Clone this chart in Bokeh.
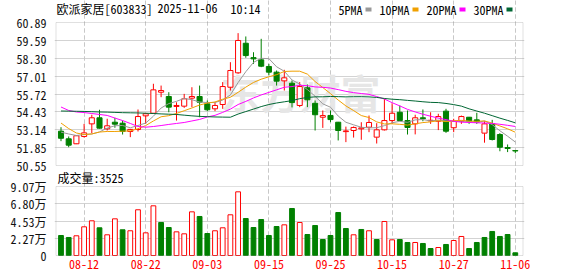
import numpy as np
from bokeh.plotting import figure
from bokeh.models import Range1d, FixedTicker, Label, BoxAnnotation, Grid
from bokeh.embed import file_html
from bokeh.resources import INLINE

# ---------------- data ----------------
stock_name = "欧派家居"
stock_code = "603833"
date_str = "2025-11-06"
time_str = "10:14"
dates = ["08-07", "08-08", "08-11", "08-12", "08-13", "08-14", "08-15", "08-18", "08-19", "08-20",
         "08-21", "08-22", "08-25", "08-26", "08-27", "08-28", "08-29", "09-01", "09-02", "09-03",
         "09-04", "09-05", "09-08", "09-09", "09-10", "09-11", "09-12", "09-15", "09-16", "09-17",
         "09-18", "09-19", "09-22", "09-23", "09-24", "09-25", "09-26", "09-29", "09-30", "10-09",
         "10-10", "10-13", "10-14", "10-15", "10-16", "10-17", "10-20", "10-21", "10-22", "10-23",
         "10-24", "10-27", "10-28", "10-29", "10-30", "10-31", "11-03", "11-04", "11-05", "11-06"]
opens = [53.03, 52.48, 52.12, 52.65, 53.56, 54.00, 53.20, 53.68, 53.61, 53.01,
         53.15, 54.14, 54.33, 55.85, 55.54, 54.82, 54.84, 55.42, 55.54, 55.01,
         54.65, 54.96, 56.21, 57.25, 59.39, 58.35, 58.19, 57.71, 57.30, 56.67,
         56.50, 54.89, 56.17, 55.05, 54.04, 54.17, 53.68, 53.00, 53.08, 53.20,
         53.32, 52.60, 53.13, 53.80, 54.40, 53.80, 53.56, 54.00, 53.78, 53.75,
         54.48, 53.28, 53.75, 54.04, 53.85, 52.89, 53.56, 52.79, 51.85, 51.63]
highs = [53.32, 52.65, 52.72, 53.56, 54.22, 54.58, 53.93, 54.00, 53.80, 53.18,
         54.60, 54.33, 56.46, 56.33, 55.85, 55.12, 55.73, 56.21, 56.33, 55.25,
         55.13, 56.58, 58.02, 60.12, 59.88, 58.74, 59.71, 57.90, 57.42, 57.47,
         56.70, 56.58, 56.41, 55.25, 54.53, 54.53, 53.70, 53.36, 53.37, 53.68,
         54.16, 53.61, 55.37, 55.05, 54.89, 54.53, 54.22, 54.60, 54.40, 54.29,
         54.65, 53.93, 54.16, 54.06, 54.36, 53.75, 53.85, 52.89, 52.07, 51.64]
lows = [52.31, 51.87, 52.10, 52.57, 52.89, 53.22, 53.08, 53.28, 52.79, 52.60,
        53.01, 53.56, 54.29, 55.49, 54.40, 53.80, 54.72, 54.77, 54.04, 54.48,
        54.48, 54.65, 55.97, 57.18, 58.34, 57.90, 57.66, 57.06, 56.33, 55.97,
        54.75, 54.77, 54.77, 53.08, 53.27, 53.68, 52.36, 52.24, 52.57, 52.41,
        52.96, 52.14, 53.08, 53.56, 53.75, 52.79, 52.80, 53.75, 53.56, 53.11,
        52.91, 52.96, 53.56, 53.56, 53.56, 52.20, 52.36, 51.58, 51.52, 51.44]
closes = [52.52, 52.02, 52.70, 52.91, 54.00, 53.25, 53.42, 53.54, 53.01, 53.16,
          54.09, 54.29, 56.02, 55.97, 54.77, 54.89, 55.37, 55.54, 55.13, 54.58,
          54.89, 56.26, 57.42, 59.59, 58.50, 58.26, 57.73, 57.30, 56.65, 56.89,
          55.10, 56.26, 55.30, 54.22, 54.16, 53.87, 53.08, 53.05, 53.30, 53.27,
          53.66, 53.13, 53.80, 54.33, 53.80, 53.30, 54.00, 53.94, 53.82, 54.09,
          53.03, 53.75, 54.09, 53.75, 53.70, 53.56, 52.43, 51.87, 51.78, 51.60]
# volume in units of 万 (10k lots)
vols = [2.63, 2.37, 2.59, 3.77, 4.56, 3.64, 2.72, 4.82, 3.38, 3.25,
        6.01, 2.98, 6.53, 4.34, 3.68, 3.11, 2.85, 5.74, 5.13, 2.89,
        3.25, 3.64, 5.35, 8.37, 4.86, 3.68, 4.73, 2.63, 3.81, 4.03,
        6.18, 4.34, 2.76, 3.94, 2.10, 2.63, 5.65, 3.55, 2.72, 3.42,
        3.25, 2.10, 4.47, 2.06, 2.10, 1.71, 1.71, 1.58, 0.92, 1.05,
        1.45, 1.97, 2.50, 0.92, 1.71, 2.37, 3.16, 2.50, 2.76, 0.3525]
ma5_head = [52.96, 52.83, 52.72, 52.79]
ma10_head = [53.62, 53.22, 52.90, 52.79, 52.83, 52.97, 53.01, 53.01, 53.03]
ma20_head = [54.78, 54.53, 54.42, 54.38, 54.31, 54.24, 54.17, 53.98, 53.80, 53.59,
             53.37, 53.32, 53.37, 53.44, 53.52, 53.59, 53.66, 53.77, 53.88]
ma30_head = [54.49, 54.48, 54.47, 54.46, 54.44, 54.42, 54.41, 54.39, 54.37, 54.36,
             54.35, 54.33, 54.31, 54.28, 54.26, 54.24, 54.19, 54.14, 54.10, 54.08,
             54.06, 54.05, 54.04, 54.27, 54.45, 54.63, 54.81, 54.96, 55.07]
price_tick_labels = ["50.55", "51.85", "53.14", "54.43", "55.72", "57.01", "58.30", "59.59", "60.89"]
price_min, price_max = 50.55, 60.89
vol_tick_labels = ["0", "2.27万", "4.53万", "6.80万", "9.07万"]
vol_max = 9.07
x_tick_labels = ["08-12", "08-22", "09-03", "09-15", "09-25", "10-15", "10-27", "11-06"]
ma_names = ["5PMA", "10PMA", "20PMA", "30PMA"]

# ---------------- styles / layout ----------------
RED = "#ff0000"
GREEN = "#008000"
MA_COLORS = ["#999999", "#f0a000", "#ff00ff", "#006633"]
GRID = "#d3d3d3"
VGRID = "#c8c8c8"
FRAME = "#999999"
CJK = "Noto Sans Mono CJK SC, Noto Sans CJK SC"

W, H = 578, 276
FRAME_L, FRAME_R = 54, 524          # bokeh frame, px
FRAME_B = 256                       # bokeh frame bottom, px (top is 0)
BOX_L, BOX_R = 55.5, 522.5          # drawn chart border, px
SLOT = 7.70                         # px per trading day
FIRST_C = 60.5                      # px of the first candle centre
P_TOP, P_BOT = 22, 165              # price box, px
V_TOP, V_BOT = 186, 255             # volume box, px

n = len(dates)
idx = list(range(n))


def moving_avg(k, head):
    out = []
    for i in range(n):
        if i >= k - 1:
            out.append(sum(closes[i - k + 1:i + 1]) / k)
        else:
            out.append(head[i])
    return out


mas = [moving_avg(5, ma5_head), moving_avg(10, ma10_head),
       moving_avg(20, ma20_head), moving_avg(30, ma30_head)]

up = [c > o for o, c in zip(opens, closes)]
vol_up = [(closes[i] >= closes[i - 1]) if i > 0 else up[0] for i in range(n)]
x_ticks = [dates.index(t) for t in x_tick_labels]

# pixel <-> data helpers
x_start = -(FIRST_C - FRAME_L) / SLOT
x_end = x_start + (FRAME_R - FRAME_L) / SLOT


def fx(px):
    return x_start + (px - FRAME_L) / SLOT


ppu = (P_BOT - P_TOP) / (price_max - price_min)
y_top = price_max + P_TOP / ppu
y_bot = y_top - FRAME_B / ppu


def fy(py):
    return y_top - py / ppu


vppu = (V_BOT - V_TOP) / vol_max
v_bot = -(FRAME_B - V_BOT) / vppu
v_top = vol_max + V_TOP / vppu


def v2p(v):
    return fy(V_BOT - v * vppu)


box_l, box_r = fx(BOX_L), fx(BOX_R)

p = figure(width=W, height=H, x_range=Range1d(x_start, x_end), y_range=Range1d(y_bot, y_top),
           output_backend="svg", toolbar_location=None,
           min_border_left=FRAME_L, min_border_right=W - FRAME_R,
           min_border_top=0, min_border_bottom=H - FRAME_B)
p.extra_y_ranges = {"vol": Range1d(v_bot, v_top)}
p.outline_line_color = None

# y axis: price ticks and volume ticks on one axis
price_ticks = list(np.linspace(price_min, price_max, len(price_tick_labels)))
vol_ticks = list(np.linspace(0, vol_max, len(vol_tick_labels)))
vol_ticks_p = [v2p(v) for v in vol_ticks]
overrides = {t: s for t, s in zip(price_ticks, price_tick_labels)}
overrides.update({t: s for t, s in zip(vol_ticks_p, vol_tick_labels)})
p.yaxis.ticker = FixedTicker(ticks=price_ticks + vol_ticks_p)
p.yaxis.major_label_overrides = overrides
p.yaxis.axis_line_color = None
p.yaxis.major_tick_line_color = None
p.yaxis.minor_tick_line_color = None
p.yaxis.major_label_standoff = 2
p.yaxis.major_label_text_font = CJK
p.yaxis.major_label_text_font_size = "12px"
p.yaxis.major_label_text_color = "#111111"
p.ygrid.ticker = FixedTicker(ticks=price_ticks[1:-1] + vol_ticks_p[1:-1])
p.ygrid.grid_line_color = GRID
p.ygrid.bounds = (box_l, box_r)

# x axis
p.xaxis.ticker = FixedTicker(ticks=x_ticks)
p.xaxis.major_label_overrides = {t: s for t, s in zip(x_ticks, x_tick_labels)}
p.xaxis.axis_line_color = None
p.xaxis.major_tick_line_color = None
p.xaxis.minor_tick_line_color = None
p.xaxis.major_tick_out = 0
p.xaxis.major_label_standoff = 3
p.xaxis.major_label_text_font = CJK
p.xaxis.major_label_text_font_size = "12px"
p.xaxis.major_label_text_color = RED
p.xgrid.ticker = FixedTicker(ticks=x_ticks)
p.xgrid.grid_line_color = VGRID
p.xgrid.grid_line_dash = "4 3"
p.xgrid.bounds = (price_min, price_max)
vgrid2 = Grid(dimension=0, ticker=FixedTicker(ticks=x_ticks), grid_line_color=VGRID,
              grid_line_dash="4 3", bounds=(v2p(0), v2p(vol_max)))
p.add_layout(vgrid2)

# watermark
p.add_layout(Label(x=31.1, y=55.9, text="东方财富", text_font=CJK, text_font_size="40px",
                   text_color="#e6e6e6", text_align="center", text_baseline="middle",
                   text_font_style="bold", level="underlay"))

# candles
for flag, col, fill in [(True, RED, "white"), (False, GREEN, GREEN)]:
    sel = [i for i in idx if up[i] == flag]
    p.segment(x0=sel, x1=sel, y0=[lows[i] for i in sel], y1=[highs[i] for i in sel],
              line_color=col, line_width=1)
    p.vbar(x=sel, width=0.66,
           top=[max(opens[i], closes[i]) for i in sel],
           bottom=[min(opens[i], closes[i]) for i in sel],
           fill_color=fill, line_color=col, line_width=1)

for vals, col in zip(mas, MA_COLORS):
    p.line(idx, vals, line_color=col, line_width=1)

# volume bars
for flag, col, fill in [(True, RED, "white"), (False, GREEN, GREEN)]:
    sel = [i for i in idx if vol_up[i] == flag]
    p.vbar(x=sel, width=0.62, top=[vols[i] for i in sel], bottom=0,
           fill_color=fill, line_color=col, line_width=1, y_range_name="vol")

# panel borders
p.add_layout(BoxAnnotation(left=box_l, right=box_r, bottom=price_min, top=price_max,
                           fill_color=None, line_color=FRAME, line_width=1))
p.add_layout(BoxAnnotation(left=box_l, right=box_r, bottom=v2p(0), top=v2p(vol_max),
                           fill_color=None, line_color=FRAME, line_width=1))

# title
for txt, px in [("%s[%s]" % (stock_name, stock_code), 56), (date_str, 157), (time_str, 230)]:
    p.add_layout(Label(x=fx(px), y=fy(8), text=txt,
                       text_font=CJK, text_font_size="12px", text_color="#000000",
                       text_baseline="middle"))

# legend
lx = 338
for name, col in zip(ma_names, MA_COLORS):
    p.add_layout(Label(x=fx(lx), y=fy(9), text=name,
                       text_font=CJK, text_font_size="12px", text_color="#000000",
                       text_baseline="middle"))
    sq = lx + 6 * len(name) + 3
    p.quad(left=[fx(sq)], right=[fx(sq + 6)], top=[fy(7)], bottom=[fy(11)],
           fill_color=col, line_color=None)
    lx = sq + 6 + 8

# volume caption
p.add_layout(Label(x=fx(57), y=fy(177), text="成交量:%d" % round(vols[-1] * 10000),
                   text_font=CJK, text_font_size="12px", text_color="#000000",
                   text_baseline="middle"))

open("out.html", "w").write(file_html(p, INLINE))
